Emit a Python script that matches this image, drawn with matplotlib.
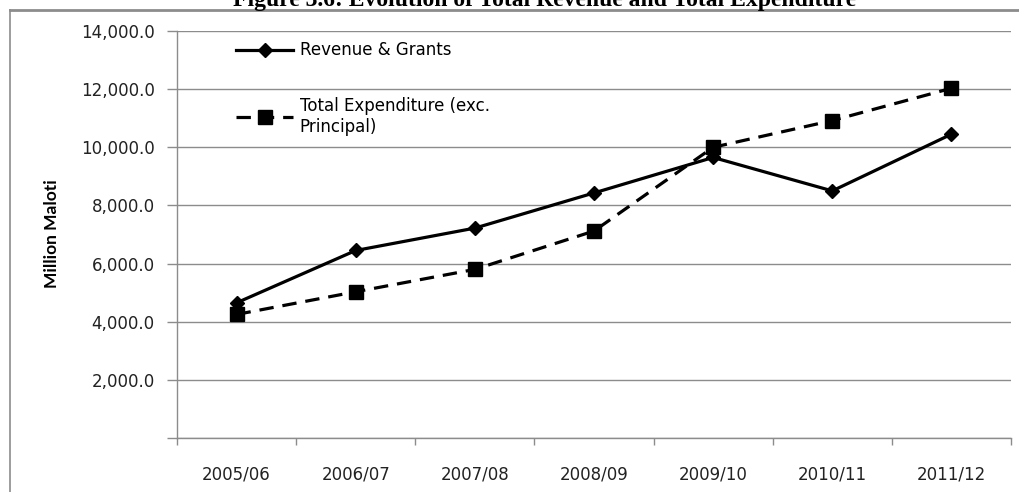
import matplotlib
matplotlib.use("Agg")
import matplotlib.pyplot as plt
from matplotlib.lines import Line2D

# data (million maloti)
years = ['2005/06', '2006/07', '2007/08', '2008/09', '2009/10', '2010/11', '2011/12']
revenue = [4650, 6450, 7220, 8430, 9650, 8500, 10450]
expenditure = [4250, 5030, 5800, 7120, 10000, 10920, 12030]
yticks = [0, 2000, 4000, 6000, 8000, 10000, 12000, 14000]

plt.rcParams['font.family'] = 'DejaVu Sans'
grey = '#8c8c8c'
txt = '#222222'

fig = plt.figure(figsize=(10.19, 4.92), dpi=100)
ax = fig.add_axes([177 / 1019, 1 - 438 / 492, (1011 - 177) / 1019, (438 - 31) / 492])

x = list(range(len(years)))
ax.plot(x, revenue, color='black', lw=2.3, marker='D', ms=7,
        label='Revenue & Grants')
ax.plot(x, expenditure, color='black', lw=2.3, ls=(0, (4.5, 2.8)), marker='s', ms=10,
        label='Total Expenditure (exc.\nPrincipal)')

ax.set_xlim(-0.5, len(years) - 0.5)
ax.set_ylim(0, 14000)
ax.set_yticks(yticks)
ax.set_yticklabels(['' if v == 0 else f'{v:,.1f}' for v in yticks], fontsize=12, color=txt)
ax.set_xticks(x)
ax.set_xticklabels(years, fontsize=12, color=txt)
ax.set_xticks([i - 0.5 for i in range(len(years) + 1)], minor=True)
ax.tick_params(axis='x', which='major', length=0, pad=20)
ax.tick_params(axis='x', which='minor', length=5, color=grey, width=1)
ax.tick_params(axis='y', length=7, color=grey, width=1, pad=9)

ax.grid(axis='y', color=grey, lw=1)
ax.set_axisbelow(True)
for side in ['top', 'right']:
    ax.spines[side].set_visible(False)
for side in ['left', 'bottom']:
    ax.spines[side].set_color(grey)
    ax.spines[side].set_linewidth(1)

fig.text(52 / 1019, 1 - 234 / 492, 'Million Maloti', rotation=90, fontsize=12.5,
         family='Lato', fontweight='bold', ha='center', va='center')

ax.legend(loc='upper left', bbox_to_anchor=(228 / 1019, 1 - 33 / 492),
          bbox_transform=fig.transFigure, frameon=False, fontsize=12,
          handlelength=3.4, handletextpad=0.4, labelspacing=2.25, borderpad=0)

# chart frame cut at top and left, title sitting above it
fig.add_artist(Line2D([10 / 1019, 1], [1 - 9.5 / 492] * 2, color=grey, lw=2))
fig.add_artist(Line2D([10 / 1019] * 2, [0, 1 - 9.5 / 492], color=grey, lw=1.2))
fig.text(545 / 1019, 1 - 6 / 492, 'Figure 3.6: Evolution of Total Revenue and Total Expenditure',
         family='Liberation Serif', fontweight='bold', fontsize=17, ha='center', va='baseline')

fig.savefig('out.png', dpi=100)
